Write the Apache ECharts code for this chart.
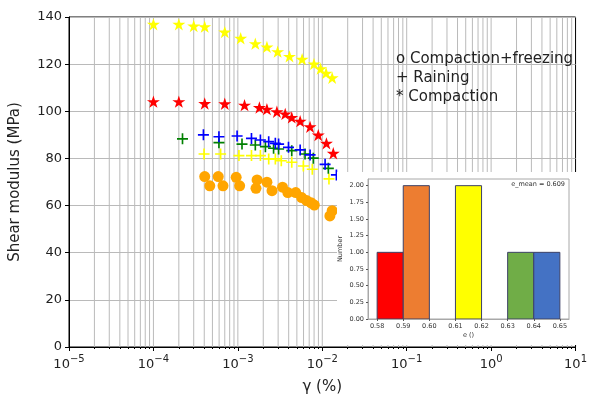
<!DOCTYPE html>
<html><head><meta charset="utf-8">
<script src="https://cdn.jsdelivr.net/npm/echarts@6/dist/echarts.min.js"></script>
<style>html,body{margin:0;padding:0;background:#fff}#c{width:590px;height:403px}</style>
</head><body><div id="c"></div>
<script>
// ---- main chart data (gamma in %, shear modulus in MPa) ----
const starYellowX = [1.0e-4, 2.0e-4, 3.0e-4, 4.05e-4, 7.0e-4, 1.08e-3, 1.61e-3, 2.21e-3, 2.96e-3, 4.09e-3, 5.77e-3, 7.98e-3, 9.55e-3, 1.11e-2, 1.31e-2];
const starYellowY = [136.9, 136.9, 136.2, 135.9, 133.6, 131.0, 128.7, 127.3, 125.3, 123.3, 122.1, 120.1, 118.1, 116.2, 114.2];
const starRedX = [1.0e-4, 2.0e-4, 4.05e-4, 7.0e-4, 1.2e-3, 1.8e-3, 2.21e-3, 2.9e-3, 3.64e-3, 4.35e-3, 5.47e-3, 7.17e-3, 8.97e-3, 1.12e-2, 1.35e-2];
const starRedY = [104.1, 104.1, 103.3, 103.2, 102.6, 101.6, 100.9, 99.8, 98.9, 97.4, 95.8, 93.4, 89.9, 86.4, 82.2];
const plusGreenX = [2.21e-4, 5.97e-4, 1.12e-3, 1.61e-3, 2.12e-3, 2.65e-3, 3.04e-3, 4.35e-3, 6.25e-3, 7.83e-3, 1.18e-2];
const plusGreenY = [88.3, 86.7, 86.1, 85.7, 85.0, 84.3, 84.0, 83.3, 81.9, 80.1, 75.8];
const plusBlueX = [3.91e-4, 5.97e-4, 9.8e-4, 1.45e-3, 1.85e-3, 2.32e-3, 2.78e-3, 3.04e-3, 3.98e-3, 5.47e-3, 7.17e-3, 1.08e-2, 1.47e-2];
const plusBlueY = [90.0, 89.2, 89.5, 88.5, 87.8, 87.1, 86.4, 86.1, 84.7, 83.6, 81.5, 77.5, 73.0];
const plusYellowX = [3.98e-4, 6.25e-4, 1.03e-3, 1.45e-3, 1.85e-3, 2.32e-3, 2.78e-3, 3.27e-3, 4.35e-3, 5.97e-3, 7.62e-3, 1.2e-2];
const plusYellowY = [81.9, 81.9, 81.2, 81.2, 81.2, 79.8, 79.8, 79.0, 78.4, 76.8, 75.4, 71.3];
const circleOrangeX = [4.05e-4, 4.65e-4, 5.86e-4, 6.67e-4, 9.55e-4, 1.05e-3, 1.69e-3, 1.64e-3, 2.21e-3, 2.54e-3, 3.38e-3, 3.91e-3, 4.85e-3, 5.7e-3, 6.53e-3, 7.36e-3, 8.05e-3, 1.31e-2, 1.23e-2];
const circleOrangeY = [72.3, 68.4, 72.3, 68.4, 72.0, 68.4, 70.9, 67.3, 69.9, 66.3, 67.8, 65.5, 65.5, 63.4, 62.1, 61.2, 60.2, 57.8, 55.6];
const legendLines = ['o Compaction+freezing', '+ Raining', '* Compaction'];

// ---- inset histogram data ----
const binLeft = [0.58, 0.59, 0.61, 0.63, 0.64];
const binRight = [0.59, 0.60, 0.62, 0.64, 0.65];
const binCount = [1, 2, 2, 1, 1];
const binColors = ['#ff0000', '#ed7d31', '#ffff00', '#70ad47', '#4472c4'];
const insetXTicks = [0.58, 0.59, 0.60, 0.61, 0.62, 0.63, 0.64, 0.65];
const insetYTicks = [0, 0.25, 0.5, 0.75, 1.0, 1.25, 1.5, 1.75, 2.0];
const eMeanText = 'e_mean = 0.609';

const zip = (a, b) => a.map((v, i) => [v, b[i]]);
const minorVals = [];
const allGrid = [];
for (let e = -5; e <= 0; e++) {
  for (let m = 1; m <= 9; m++) {
    const v = m * Math.pow(10, e);
    if (m > 1) minorVals.push(v);
    if (!(m === 1 && e === -5)) allGrid.push(v);
  }
}
const STAR = 'path://M50,0L61.2,34.5L97.6,34.5L68.2,55.9L79.4,90.5L50,69.1L20.6,90.5L31.8,55.9L2.4,34.5L38.8,34.5Z';
const PLUS = 'path://M8.5,0h3v8.5h8.5v3h-8.5v8.5h-3v-8.5h-8.5v-3h8.5z';
const FONT = 'DejaVu Sans';
const GRIDC = '#bababa';
const supMap = {'-': '−'};

const chart = echarts.init(document.getElementById('c'), null, {renderer: 'canvas'});
chart.setOption({
  animation: false,
  textStyle: {fontFamily: FONT},
  grid: [
    {left: 69, top: 17, right: 11, bottom: 56, show: true, borderColor: '#000', borderWidth: 1, backgroundColor: 'transparent'},
    {left: 368, top: 179, width: 201, height: 140, show: true, borderColor: '#a8a8a8', borderWidth: 1, backgroundColor: '#fff', z: 55}
  ],
  xAxis: [
    {type: 'log', logBase: 10, min: 1e-5, max: 10, gridIndex: 0,
      name: 'γ (%)', nameLocation: 'middle', nameGap: 33,
      nameTextStyle: {fontSize: 15, color: '#222', fontFamily: FONT},
      axisLine: {lineStyle: {color: '#000', width: 1}},
      axisTick: {show: true, inside: false, length: 4, lineStyle: {color: '#000'}},
      splitLine: {show: false},
      axisLabel: {margin: 7, color: '#222',
        formatter: v => {
          const e = Math.round(Math.log10(v));
          const s = String(e).split('').map(c => supMap[c] || c).join('');
          return '{b|10}{s|' + s + '}';
        },
        rich: {b: {fontSize: 13, lineHeight: 17, verticalAlign: 'bottom', fontFamily: FONT, color: '#222'},
               s: {fontSize: 10, lineHeight: 10, verticalAlign: 'top', fontFamily: FONT, color: '#222'}}}
    },
    {type: 'log', logBase: 10, min: 1e-5, max: 10, gridIndex: 0, position: 'bottom',
      axisLine: {show: false}, axisLabel: {show: false}, splitLine: {show: false},
      axisTick: {show: true, length: 2, customValues: minorVals, lineStyle: {color: '#000'}}
    },
    {type: 'value', gridIndex: 1, min: 0.5765, max: 0.6535, z: 60,
      name: 'e ()', nameLocation: 'middle', nameGap: 13,
      nameTextStyle: {fontSize: 6.5, color: '#333', fontFamily: FONT},
      axisLine: {lineStyle: {color: '#a8a8a8'}},
      axisTick: {length: 2, customValues: insetXTicks, lineStyle: {color: '#555'}},
      axisLabel: {customValues: insetXTicks, fontSize: 6.5, color: '#333', margin: 4, formatter: v => v.toFixed(2)},
      splitLine: {show: false}
    }
  ],
  yAxis: [
    {type: 'value', min: 0, max: 140, interval: 20, gridIndex: 0,
      name: 'Shear modulus (MPa)', nameLocation: 'middle', nameGap: 46, nameRotate: 90,
      nameTextStyle: {fontSize: 15, color: '#222', fontFamily: FONT},
      axisLine: {show: true, lineStyle: {color: '#000'}},
      axisTick: {show: true, length: 4, lineStyle: {color: '#000'}},
      axisLabel: {fontSize: 13, color: '#222', margin: 7},
      splitLine: {show: true, lineStyle: {color: GRIDC, width: 1}}
    },
    {type: 'value', gridIndex: 1, min: 0, max: 2.1, z: 60,
      name: 'Number', nameLocation: 'middle', nameGap: 24, nameRotate: 90,
      nameTextStyle: {fontSize: 6.5, color: '#333', fontFamily: FONT},
      axisLine: {show: true, lineStyle: {color: '#a8a8a8'}},
      axisTick: {show: true, length: 2, customValues: insetYTicks, lineStyle: {color: '#555'}},
      axisLabel: {customValues: insetYTicks, fontSize: 6.5, color: '#333', margin: 4, formatter: v => v.toFixed(2)},
      splitLine: {show: false}
    }
  ],
  graphic: {elements: [
    {type: 'rect', z: 50, shape: {x: 337, y: 172, width: 242, height: 173}, style: {fill: '#fff'}, silent: true},
    {type: 'text', z: 100, left: 396, top: 52, style: {text: legendLines[0], font: '15px "DejaVu Sans"', fill: '#222'}},
    {type: 'text', z: 100, left: 396, top: 71, style: {text: legendLines[1], font: '15px "DejaVu Sans"', fill: '#222'}},
    {type: 'text', z: 100, left: 396, top: 90, style: {text: legendLines[2], font: '15px "DejaVu Sans"', fill: '#222'}},
    {type: 'text', z: 100, right: 25, top: 181, style: {text: eMeanText, font: '6.5px "DejaVu Sans"', fill: '#333'}}
  ]},
  series: [
    {type: 'custom', xAxisIndex: 0, yAxisIndex: 0, z: 1, silent: true,
      data: allGrid.map(v => [v]),
      encode: {x: 0},
      renderItem: (params, api) => {
        const v = api.value(0);
        const a = api.coord([v, 0]);
        const b = api.coord([v, 140]);
        return {type: 'line', shape: {x1: a[0], y1: a[1], x2: b[0], y2: b[1]},
          style: {stroke: GRIDC, lineWidth: 1}};
      }},
    {type: 'scatter', xAxisIndex: 0, yAxisIndex: 0, data: zip(circleOrangeX, circleOrangeY), symbol: 'circle', symbolSize: 11,
      itemStyle: {color: '#ffa500', opacity: 1}},
    {type: 'scatter', xAxisIndex: 0, yAxisIndex: 0, data: zip(plusYellowX, plusYellowY), symbol: PLUS, symbolSize: 11,
      itemStyle: {color: '#ffff00', opacity: 1}},
    {type: 'scatter', xAxisIndex: 0, yAxisIndex: 0, data: zip(plusGreenX, plusGreenY), symbol: PLUS, symbolSize: 11,
      itemStyle: {color: '#008000', opacity: 1}},
    {type: 'scatter', xAxisIndex: 0, yAxisIndex: 0, data: zip(plusBlueX, plusBlueY), symbol: PLUS, symbolSize: 11,
      itemStyle: {color: '#0000ff', opacity: 1}},
    {type: 'scatter', xAxisIndex: 0, yAxisIndex: 0, data: zip(starYellowX, starYellowY), symbol: STAR, symbolSize: 13, symbolKeepAspect: true,
      itemStyle: {color: '#ffff00', opacity: 1}},
    {type: 'scatter', xAxisIndex: 0, yAxisIndex: 0, data: zip(starRedX, starRedY), symbol: STAR, symbolSize: 13, symbolKeepAspect: true,
      itemStyle: {color: '#ff0000', opacity: 1}},
    {type: 'custom', xAxisIndex: 2, yAxisIndex: 1, z: 60,
      data: binLeft.map((l, i) => [l, binRight[i], binCount[i], i]),
      encode: {x: [0, 1], y: 2},
      renderItem: (params, api) => {
        const p0 = api.coord([api.value(0), api.value(2)]);
        const p1 = api.coord([api.value(1), 0]);
        return {type: 'rect', shape: {x: p0[0], y: p0[1], width: p1[0] - p0[0], height: p1[1] - p0[1]},
          style: {fill: binColors[api.value(3)], stroke: '#3d4266', lineWidth: 1}};
      }}
  ]
});
</script>
</body></html>
